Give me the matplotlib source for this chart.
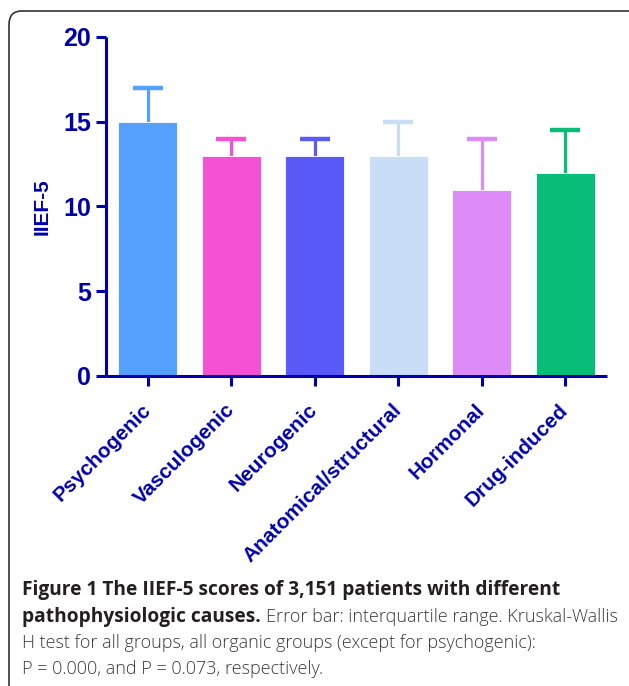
import matplotlib
matplotlib.use("Agg")
import matplotlib.pyplot as plt
from matplotlib.patches import FancyBboxPatch

# data
causes = ["Psychogenic", "Vasculogenic", "Neurogenic",
          "Anatomical/structural", "Hormonal", "Drug-induced"]
median_iief = [15, 13, 13, 13, 11, 12]
upper_quartile = [17, 14, 14, 15, 14, 14.5]
bar_colors = ["#559FFD", "#F551D5", "#5A5AF8", "#C9DDF7", "#DD8CF7", "#07BE78"]
y_ticks = [0, 5, 10, 15, 20]

axis_blue = "#0000AA"
W, H = 629, 686

fig = plt.figure(figsize=(W / 100, H / 100), dpi=100)

# rounded frame around figure + caption (right and bottom run off the image)
frame = FancyBboxPatch((9 / W, -12 / H), 640 / W, (675 + 12) / H,
                       boxstyle="round,pad=0,rounding_size=0.02",
                       transform=fig.transFigure, fill=False,
                       edgecolor="#333333", linewidth=1.2)
fig.patches.append(frame)

ax = fig.add_axes([106 / W, 1 - 376 / H, 501 / W, 339 / H])
x = list(range(len(causes)))

for i in x:
    eb = ax.errorbar(i, median_iief[i], yerr=[[0], [upper_quartile[i] - median_iief[i]]],
                     fmt="none", ecolor=bar_colors[i], elinewidth=2.3,
                     capsize=11, capthick=3.2, zorder=1)
    caps = eb.lines[1]
    if len(caps) > 1:
        caps[0].set_visible(False)
ax.bar(x, median_iief, width=0.71, color=bar_colors, edgecolor="white",
       linewidth=0.6, zorder=2)

ax.set_xlim(-0.5, len(causes) - 0.5)
ax.set_ylim(0, 20)
ax.set_yticks(y_ticks)
ax.set_xticks(x)
ax.set_xticklabels(causes, rotation=45, ha="right", va="center",
                   rotation_mode="anchor")

for side in ["top", "right"]:
    ax.spines[side].set_visible(False)
for side in ["left", "bottom"]:
    ax.spines[side].set_color(axis_blue)
    ax.spines[side].set_linewidth(2.2)
    ax.spines[side].set_capstyle("butt")

ax.tick_params(axis="y", colors=axis_blue, length=7.2, width=2.2, pad=3.5)
ax.tick_params(axis="x", colors=axis_blue, length=7.2, width=2.2, pad=15)
for lab in ax.get_yticklabels():
    lab.set_fontsize(18)
    lab.set_fontweight("bold")
    lab.set_fontfamily("Liberation Sans")
for lab in ax.get_xticklabels():
    lab.set_fontsize(15)
    lab.set_fontweight("bold")
    lab.set_fontfamily("Liberation Sans")

ax.set_ylabel("IIEF-5", fontsize=15, fontweight="bold", color=axis_blue,
              family="Liberation Sans")
ax.yaxis.set_label_coords(-0.108, 0.5)

# caption, bold lead-in followed by regular text
cap_x = 22 / W
bold_size = 13.8
reg_size = 13.0
line_y = [595, 622, 648, 674]

fig.text(cap_x, 1 - line_y[0] / H,
         "Figure 1 The IIEF-5 scores of 3,151 patients with different",
         fontsize=bold_size, fontweight="bold", family="Open Sans",
         color="#231F20", va="baseline")
bold2 = fig.text(cap_x, 1 - line_y[1] / H, "pathophysiologic causes.",
                 fontsize=bold_size, fontweight="bold", family="Open Sans",
                 color="#231F20", va="baseline")
renderer = fig.canvas.get_renderer()
bb = bold2.get_window_extent(renderer)
fig.text(bb.x1 / W + 5 / W, 1 - line_y[1] / H,
         "Error bar: interquartile range. Kruskal-Wallis",
         fontsize=reg_size, fontweight="light", family="Open Sans",
         color="#3A3A3A", va="baseline")
fig.text(cap_x, 1 - line_y[2] / H,
         "H test for all groups, all organic groups (except for psychogenic):",
         fontsize=reg_size, fontweight="light", family="Open Sans",
         color="#3A3A3A", va="baseline")
fig.text(cap_x, 1 - line_y[3] / H,
         "P = 0.000, and P = 0.073, respectively.",
         fontsize=reg_size, fontweight="light", family="Open Sans",
         color="#3A3A3A", va="baseline")

fig.savefig("out.png", dpi=100)
